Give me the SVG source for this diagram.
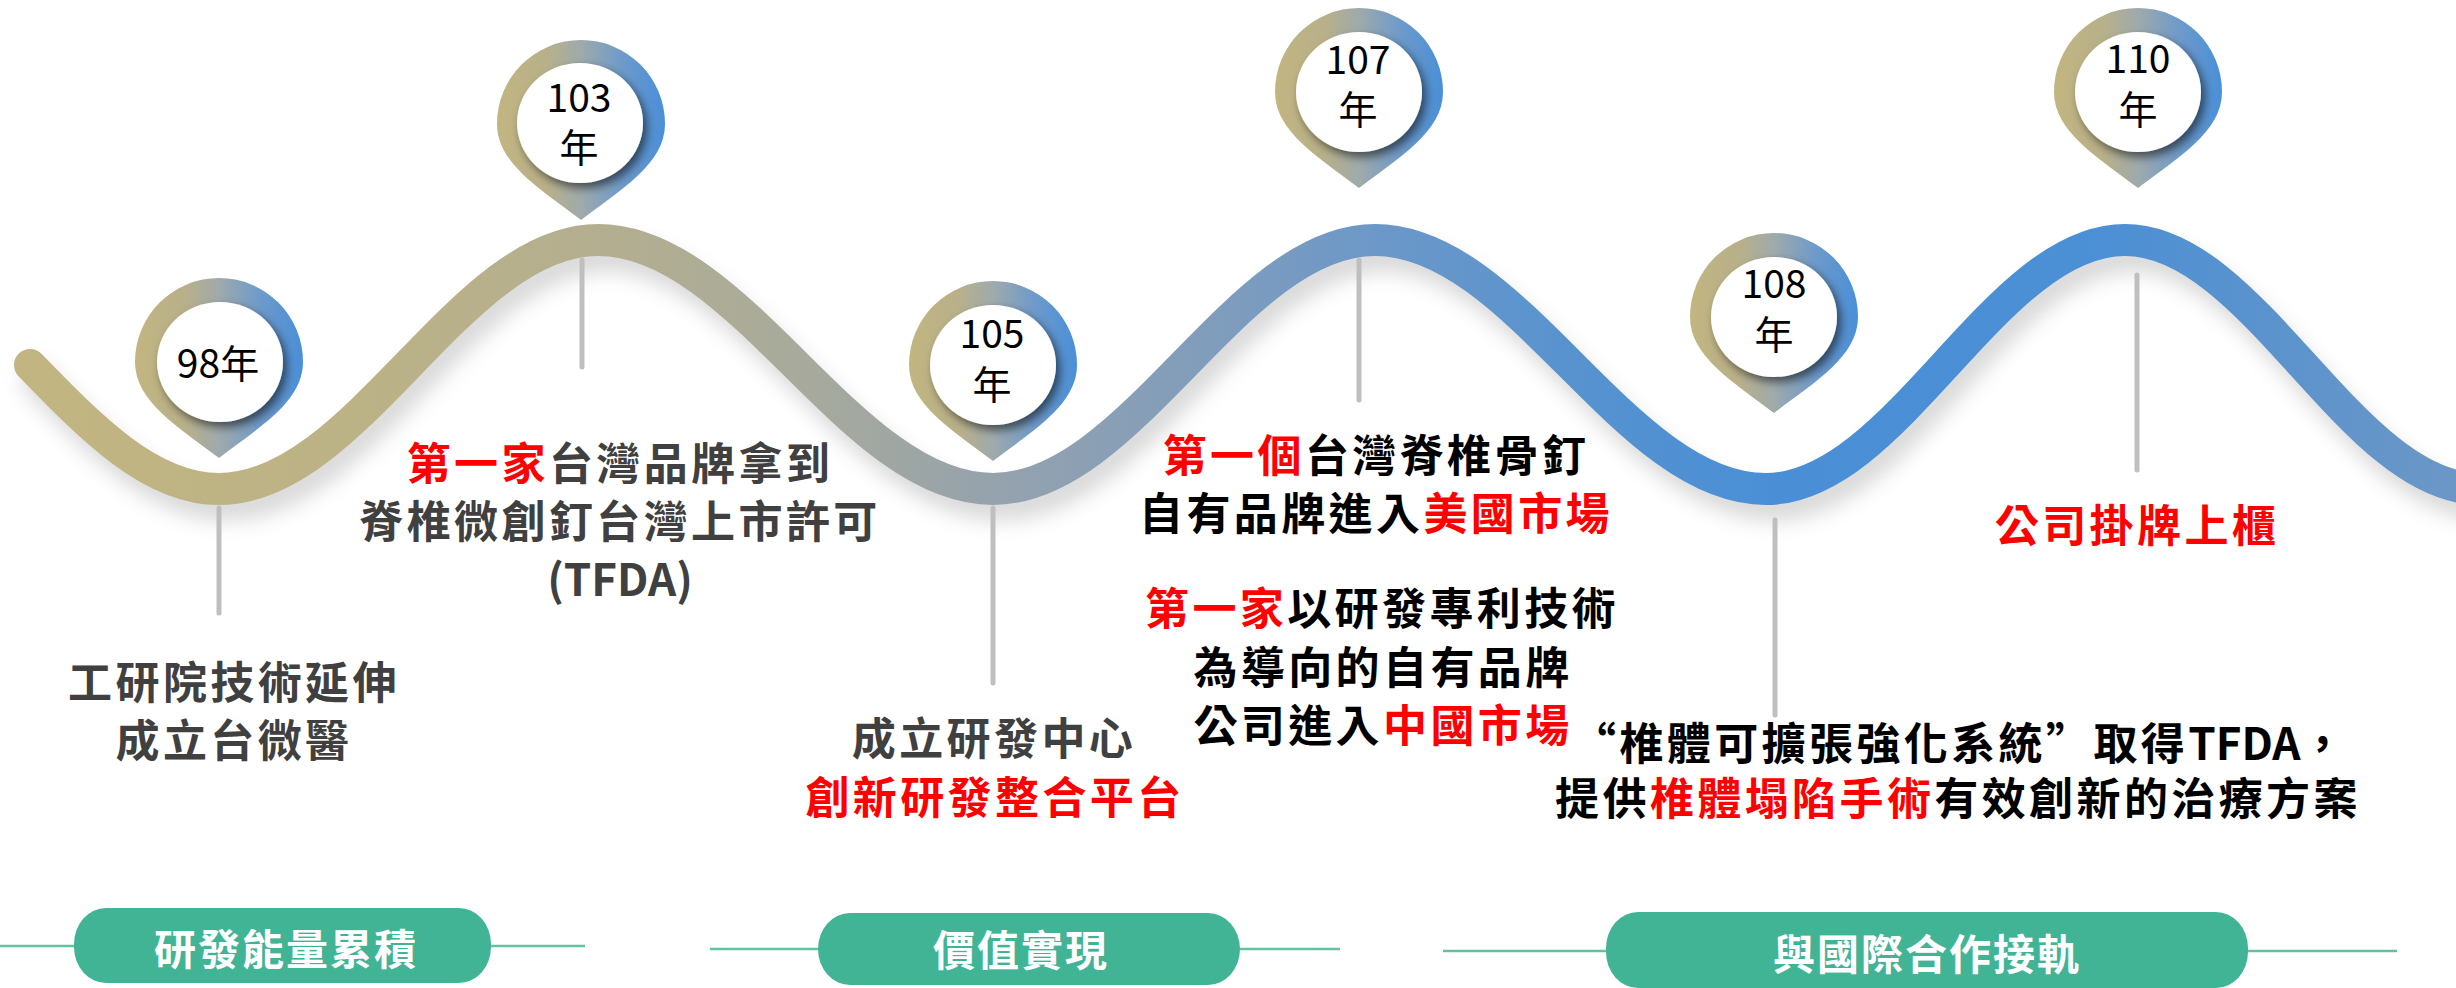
<svg xmlns="http://www.w3.org/2000/svg" width="2456" height="988" viewBox="0 0 2456 988">
<defs>
<linearGradient id="waveGrad" gradientUnits="userSpaceOnUse" x1="0" y1="0" x2="2456" y2="0">
<stop offset="0" stop-color="#c2b580"/>
<stop offset="0.15" stop-color="#bbb286"/>
<stop offset="0.25" stop-color="#b3ae90"/>
<stop offset="0.33" stop-color="#a7aa9c"/>
<stop offset="0.41" stop-color="#94a2ae"/>
<stop offset="0.5" stop-color="#7e9cbd"/>
<stop offset="0.56" stop-color="#6c98c8"/>
<stop offset="0.65" stop-color="#5592d0"/>
<stop offset="0.72" stop-color="#4a8fd6"/>
<stop offset="0.85" stop-color="#4b8fd5"/>
<stop offset="1" stop-color="#6b97c6"/>
</linearGradient>
<linearGradient id="pinGrad" x1="0" y1="0" x2="1" y2="0">
<stop offset="0" stop-color="#c2b580"/>
<stop offset="0.3" stop-color="#b8b08a"/>
<stop offset="0.5" stop-color="#9faaab"/>
<stop offset="0.75" stop-color="#6d9acb"/>
<stop offset="1" stop-color="#4a8fd8"/>
</linearGradient>
<filter id="waveShadow" x="-5%" y="-30%" width="110%" height="170%">
<feGaussianBlur stdDeviation="10"/>
</filter>
<filter id="innerShadow" x="-30%" y="-30%" width="160%" height="160%">
<feDropShadow dx="4" dy="5" stdDeviation="5" flood-color="#000" flood-opacity="0.55"/>
</filter>
<path id="pin" d="M -84,0 A 84 84 0 0 1 84,0 C 84,40 39,66 0,96 C -39,66 -84,40 -84,0 Z"/>
</defs>
<style>
.pin { fill: url(#pinGrad); }
.hole { fill: #ffffff; filter: url(#innerShadow); }
.yr { font-family: 'Noto Sans CJK TC', 'Noto Sans CJK SC', sans-serif; font-size: 39px; fill: #000; text-anchor: middle; }
.desc { font-family: 'Noto Sans CJK TC', 'Noto Sans CJK SC', sans-serif; font-size: 44px; font-weight: 700; letter-spacing: 3.4px; text-anchor: middle; }
.lat { letter-spacing: 0px; }
.gray { fill: #404040; }
.blk { fill: #000000; }
.red { fill: #ff0000; }
.stem { stroke: #bfbfbf; stroke-width: 5; stroke-linecap: round; fill: none; }
.pill { fill: #41b496; }
.pillTxt { font-family: 'Noto Sans CJK TC', 'Noto Sans CJK SC', sans-serif; font-size: 42px; font-weight: 700; letter-spacing: 2px; fill: #ffffff; text-anchor: middle; }
.phaseLine { stroke: #62c2a2; stroke-width: 2.5; fill: none; }
</style>
<rect x="0" y="0" width="2456" height="988" fill="#ffffff"/>

<g id="timeline">
<path transform="translate(8,16)" filter="url(#waveShadow)" fill="none" stroke="#000" stroke-opacity="0.15" stroke-width="32" stroke-linecap="round" d="M 30,365 C 91.6,428.5 150.6,489 219,489 C 356.7,489 460.3,240 598,240 C 741.5,240 849.5,489 993,489 C 1131.8,489 1236.2,240 1375,240 C 1517,240 1624,489 1766,489 C 1896.5,489 1994.5,240 2125,240 C 2254,240 2351,489 2480,489"/>
<path fill="none" stroke="url(#waveGrad)" stroke-width="32" stroke-linecap="round" d="M 30,365 C 91.6,428.5 150.6,489 219,489 C 356.7,489 460.3,240 598,240 C 741.5,240 849.5,489 993,489 C 1131.8,489 1236.2,240 1375,240 C 1517,240 1624,489 1766,489 C 1896.5,489 1994.5,240 2125,240 C 2254,240 2351,489 2480,489"/>
</g>

<g id="connectors">
<line class="stem" x1="219" y1="508" x2="219" y2="613"/>
<line class="stem" x1="582" y1="260" x2="582" y2="367"/>
<line class="stem" x1="993" y1="508" x2="993" y2="683"/>
<line class="stem" x1="1359" y1="260" x2="1359" y2="400"/>
<line class="stem" x1="1775" y1="520" x2="1775" y2="715"/>
<line class="stem" x1="2137" y1="275" x2="2137" y2="470"/>
<line class="phaseLine" x1="0" y1="946" x2="74" y2="946"/>
<line class="phaseLine" x1="491" y1="946" x2="585" y2="946"/>
<line class="phaseLine" x1="710" y1="949" x2="818" y2="949"/>
<line class="phaseLine" x1="1240" y1="949" x2="1340" y2="949"/>
<line class="phaseLine" x1="1443" y1="951" x2="1606" y2="951"/>
<line class="phaseLine" x1="2248" y1="951" x2="2397" y2="951"/>
</g>

<g id="m98">
<use href="#pin" class="pin" x="219" y="362"/>
<ellipse class="hole" cx="220" cy="362" rx="63" ry="60"/>
<text class="yr" x="218" y="378">98年</text>
<text class="desc gray" x="234" y="699">工研院技術延伸</text>
<text class="desc gray" x="234" y="757">成立台微醫</text>
</g>

<g id="m103">
<use href="#pin" class="pin" x="581" y="124"/>
<ellipse class="hole" cx="580" cy="123" rx="63" ry="60"/>
<text class="yr" x="579" y="112">103</text>
<text class="yr" x="579" y="162">年</text>
<text class="desc" x="620" y="480"><tspan class="red">第一家</tspan><tspan class="gray">台灣品牌拿到</tspan></text>
<text class="desc gray" x="620" y="538">脊椎微創釘台灣上市許可</text>
<text class="desc gray lat" x="620" y="596">(TFDA)</text>
</g>

<g id="m105">
<use href="#pin" class="pin" x="993" y="365"/>
<ellipse class="hole" cx="993" cy="365" rx="63" ry="60"/>
<text class="yr" x="992" y="348">105</text>
<text class="yr" x="992" y="399">年</text>
<text class="desc gray" x="994" y="755">成立研發中心</text>
<text class="desc red" x="995" y="814">創新研發整合平台</text>
</g>

<g id="m107">
<use href="#pin" class="pin" x="1359" y="92"/>
<ellipse class="hole" cx="1359" cy="92" rx="63" ry="60"/>
<text class="yr" x="1358" y="74">107</text>
<text class="yr" x="1358" y="124">年</text>
<text class="desc" x="1376" y="472"><tspan class="red">第一個</tspan><tspan class="blk">台灣脊椎骨釘</tspan></text>
<text class="desc" x="1376" y="530"><tspan class="blk">自有品牌進入</tspan><tspan class="red">美國市場</tspan></text>
<text class="desc" x="1382" y="625"><tspan class="red">第一家</tspan><tspan class="blk">以研發專利技術</tspan></text>
<text class="desc blk" x="1383" y="684">為導向的自有品牌</text>
<text class="desc" x="1383" y="742"><tspan class="blk">公司進入</tspan><tspan class="red">中國市場</tspan></text>
</g>

<g id="m108">
<use href="#pin" class="pin" x="1774" y="317"/>
<ellipse class="hole" cx="1774" cy="317" rx="63" ry="60"/>
<text class="yr" x="1774" y="298">108</text>
<text class="yr" x="1774" y="349">年</text>
<text class="desc blk" x="1960" y="760">“椎體可擴張強化系統”取得<tspan class="lat">TFDA</tspan>，</text>
<text class="desc" x="1958" y="815"><tspan class="blk">提供</tspan><tspan class="red">椎體塌陷手術</tspan><tspan class="blk">有效創新的治療方案</tspan></text>
</g>

<g id="m110">
<use href="#pin" class="pin" x="2138" y="92"/>
<ellipse class="hole" cx="2138" cy="92" rx="63" ry="60"/>
<text class="yr" x="2138" y="73">110</text>
<text class="yr" x="2138" y="124">年</text>
<text class="desc red" x="2137" y="542">公司掛牌上櫃</text>
</g>

<g id="phase1">
<rect class="pill" x="74" y="908" width="417" height="75" rx="32" ry="36"/>
<text class="pillTxt" x="286" y="965">研發能量累積</text>
</g>
<g id="phase2">
<rect class="pill" x="818" y="913" width="422" height="72" rx="32" ry="36"/>
<text class="pillTxt" x="1021" y="966">價值實現</text>
</g>
<g id="phase3">
<rect class="pill" x="1606" y="912" width="642" height="76" rx="32" ry="36"/>
<text class="pillTxt" x="1927" y="970">與國際合作接軌</text>
</g>
</svg>
